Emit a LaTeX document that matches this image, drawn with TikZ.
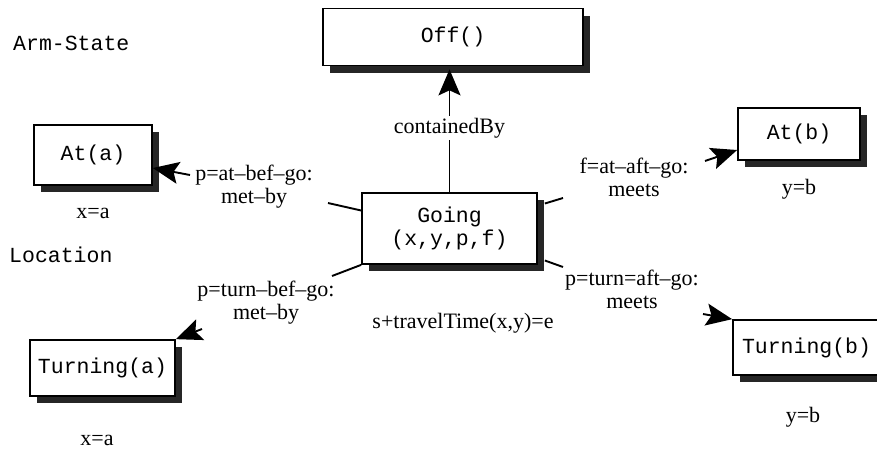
\documentclass[tikz,border=0pt]{standalone}
\usepackage{fontspec}
\setmainfont{Liberation Serif}
\setmonofont{Liberation Mono}
\usetikzlibrary{arrows.meta}
\newcommand{\monof}{\fontsize{21.5}{23}\selectfont\ttfamily}
\newcommand{\serf}{\fontsize{22}{23}\selectfont}
\tikzset{
  statebox/.style={draw, line width=1.7pt, fill=white, inner sep=0pt, font=\monof, align=center,
    preaction={fill=black!85, transform canvas={shift={(7pt,-7pt)}}}},
  lbl/.style={font=\serf, align=center, inner sep=2pt},
  mlbl/.style={font=\monof, anchor=west, inner sep=0pt},
  conn/.style={line width=1.9pt},
  bigtip/.tip={Stealth[length=26pt,width=22pt,inset=5pt]},
  arr/.style={line width=1.9pt, -bigtip}
}
\begin{document}
\begin{tikzpicture}[x=1pt,y=1pt]
\useasboundingbox (0,0) rectangle (877,-453);
% boxes
\node[statebox, minimum width=260pt, minimum height=57pt] (off) at (453,-37) {Off()};
\node[statebox, minimum width=118pt, minimum height=60pt] (ata) at (93,-155) {At(a)};
\node[statebox, minimum width=175pt, minimum height=71pt] (going) at (449.5,-228.5) {Going\\(x,y,p,f)};
\node[statebox, minimum width=122pt, minimum height=52pt] (atb) at (799,-134) {At(b)};
\node[statebox, minimum width=145pt, minimum height=56pt] (turna) at (102.5,-368) {Turning(a)};
\node[statebox, minimum width=147pt, minimum height=55pt] (turnb) at (806.5,-347.5) {Turning(b)};
% side titles
\node[mlbl] (armstate) at (13,-43) {Arm-State};
\node[mlbl] (location) at (9,-255) {Location};
% labels
\node[lbl] (cb) at (449.5,-128) {containedBy};
\node[lbl] (lata) at (254,-186.5) {p=at--bef--go:\\met--by};
\node[lbl] (latb) at (634,-177) {f=at--aft--go:\\meets};
\node[lbl] (lturna) at (266,-302.5) {p=turn--bef--go:\\met--by};
\node[lbl] (lturnb) at (632,-289.5) {p=turn=aft--go:\\meets};
\node[lbl] (travel) at (463,-323) {s+travelTime(x,y)=e};
\node[lbl] (xa1) at (93,-213) {x=a};
\node[lbl] (yb1) at (799,-189) {y=b};
\node[lbl] (xa2) at (97,-440) {x=a};
\node[lbl] (yb2) at (803,-417) {y=b};
% free ends
\coordinate (c1) at (328,-203);
\coordinate (c2) at (190,-175);
\coordinate (c3) at (332,-276);
\coordinate (c4) at (202,-329);
\coordinate (c5) at (563,-198);
\coordinate (c6) at (705,-161);
\coordinate (c7) at (563,-267);
\coordinate (c8) at (703,-314);
% connectors
\draw[conn] (going.north) -- (cb.south);
\draw[arr] (cb.north) -- ([yshift=-3pt]cb.north |- off.south);
\draw[conn] ([yshift=18pt]going.west) -- (c1);
\draw[arr] (c2) -- ([yshift=-13pt]ata.east);
\draw[conn] (going.south west) -- (c3);
\draw[arr] (c4) -- (turna.north east);
\draw[conn] ([xshift=7pt,yshift=25pt]going.east) -- (c5);
\draw[arr] (c6) -- ([yshift=-16pt]atb.west);
\draw[conn] ([xshift=7pt,yshift=-32pt]going.east) -- (c7);
\draw[arr] (c8) -- (turnb.north west);
\end{tikzpicture}
\end{document}
